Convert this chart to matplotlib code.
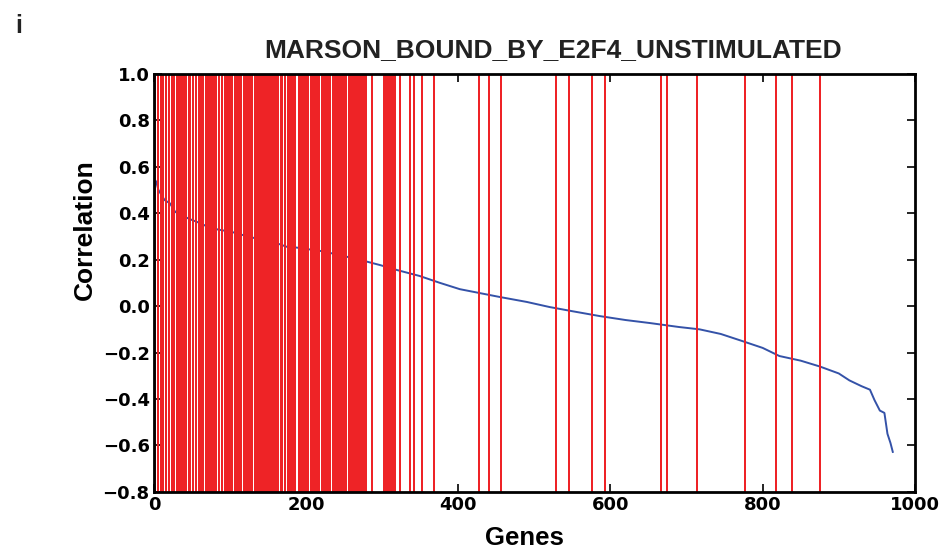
import matplotlib
matplotlib.use("Agg")
import matplotlib.pyplot as plt

# Sorted correlation profile across the ranked gene list (gene rank, correlation)
curve_rank = [0, 3, 6, 14, 21, 28, 43, 50, 58, 68, 84, 91, 104, 117, 131, 166,
              174, 188, 205, 220, 240, 270, 297, 320, 349, 376, 402, 430, 455,
              490, 520, 550, 586, 620, 652, 690, 717, 745, 770, 800, 822, 850,
              875, 900, 914, 930, 941, 947, 954, 960, 964, 968, 971]
curve_corr = [0.55, 0.536, 0.50, 0.457, 0.443, 0.406, 0.381, 0.371, 0.361,
              0.346, 0.330, 0.326, 0.318, 0.306, 0.294, 0.266, 0.256, 0.252,
              0.244, 0.237, 0.223, 0.20, 0.177, 0.155, 0.130, 0.100, 0.073,
              0.055, 0.039, 0.018, -0.004, -0.022, -0.043, -0.060, -0.073,
              -0.090, -0.100, -0.120, -0.147, -0.180, -0.215, -0.235, -0.260,
              -0.290, -0.320, -0.345, -0.360, -0.405, -0.450, -0.460, -0.550,
              -0.590, -0.628]

# Ranks of the gene-set members
hit_ranks = [
    0, 1, 5, 9, 10, 11, 12, 16, 20, 24, 25, 26,
    30, 31, 32, 33, 34, 35, 36, 37, 38, 39, 40, 41, 42, 46, 47, 51, 55,
    59, 60, 61, 62, 63, 64, 65,
    69, 70, 71, 72, 73, 74, 75, 76, 77, 78, 79, 80, 81, 85, 89,
    93, 94, 95, 96, 97, 98, 99, 100, 101, 102,
    106, 107, 108, 109, 110, 111, 112, 113, 114,
    118, 119, 120, 121, 122, 123, 124, 125, 126, 127, 128, 129,
    133, 134, 135, 136, 137, 138, 139, 140, 141, 142, 143, 144, 145, 146,
    147, 148, 149, 150, 151, 152, 153, 154, 155, 156, 157, 158, 159, 160,
    161, 162, 163, 167, 168, 172,
    176, 177, 178, 179, 180, 181, 182, 183, 184, 185, 186,
    191, 192, 193, 194, 195, 196, 197, 198, 199, 200, 201, 202,
    207, 208, 209, 210, 211, 212, 213, 214, 215, 217,
    221, 222, 223, 224, 225, 228, 229, 230, 231, 232, 235, 236,
    237, 238, 241, 242, 243, 244, 245, 246, 247,
    250, 251, 252, 253, 256, 257, 258, 259, 260, 261, 262, 263, 264, 265,
    268, 269, 270, 271, 272, 275, 276, 277, 278, 279,
    287, 303, 304, 305, 306, 307, 308, 309, 310, 313, 314, 315, 316, 317,
    323, 336, 342, 352, 368,
    427, 440, 456, 528, 545, 576, 593, 667, 674, 714, 777, 817, 838, 876,
]

title_text = "MARSON_BOUND_BY_E2F4_UNSTIMULATED"
x_ticks = [0, 200, 400, 600, 800, 1000]
y_ticks = [-0.8, -0.6, -0.4, -0.2, 0.0, 0.2, 0.4, 0.6, 0.8, 1.0]

plt.rcParams["font.family"] = ["DejaVu Sans"]

fig = plt.figure(figsize=(9.5, 5.52), dpi=100)
ax = fig.add_axes([0.162, 0.109, 0.801, 0.757])

ax.plot(curve_rank, curve_corr, color="#3452A8", linewidth=1.4, zorder=2)
ax.vlines(hit_ranks, -0.8, 1.0, colors="#EE2326", linewidth=1.3,
          antialiased=False, zorder=3)

ax.set_xlim(0, 1000)
ax.set_ylim(-0.8, 1.0)
ax.set_xticks(x_ticks)
ax.set_yticks(y_ticks)
ax.set_xticklabels([str(t) for t in x_ticks])
ax.set_yticklabels([f"{t:.1f}".replace("-", "\u2212") for t in y_ticks])

ax.tick_params(direction="in", length=6, width=1.2, top=True, right=True,
               labelsize=13, pad=3)
for lab in ax.get_xticklabels() + ax.get_yticklabels():
    lab.set_fontweight("bold")
for sp in ax.spines.values():
    sp.set_linewidth(2)
    sp.set_zorder(5)

ax.set_xlabel("Genes", fontsize=18.5, fontweight="bold",
              family=["Liberation Sans"], va="center")
ax.xaxis.set_label_coords(0.4875, -0.11)
ax.set_ylabel("Correlation", fontsize=19, fontweight="bold",
              family=["Liberation Sans"], va="center")
ax.yaxis.set_label_coords(-0.091, 0.627)
fig.text(0.582, 0.91, title_text, ha="center", va="center", fontsize=19,
         fontweight="bold", family=["Liberation Sans"], color="#222222")
fig.text(0.016, 0.953, "i", ha="left", va="center", fontsize=18,
         fontweight="bold", family=["Liberation Sans"], color="#222222")

fig.savefig("out.png", dpi=100)
